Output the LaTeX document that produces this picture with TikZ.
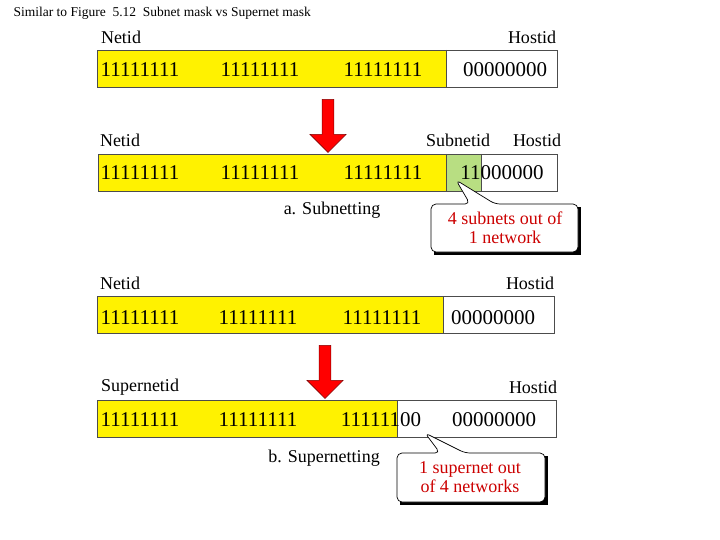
\documentclass[tikz,border=0pt]{standalone}
\usepackage{fontspec}
\setmainfont{Liberation Serif}
\usetikzlibrary{shapes.arrows}
\definecolor{subg}{RGB}{184,222,130}
\begin{document}
\begin{tikzpicture}[x=1pt,y=-1pt,
  bits/.style={font=\fontsize{21}{21}\selectfont},
  lab/.style={font=\fontsize{18}{18}\selectfont},
  call/.style={font=\fontsize{18}{19}\selectfont,text=red!80!black,align=center},
  bar/.style={draw=black!70,line width=0.8pt},
  ybar/.style={fill=yellow},
  darr/.style={single arrow,shape border rotate=270,fill=red,draw=red!50!black,line width=0.6pt,minimum width=36pt,single arrow head extend=11pt,single arrow tip angle=90,inner sep=5pt,minimum height=53pt}]
\useasboundingbox (0,0) rectangle (720,540);
\node[anchor=west,font=\fontsize{13.5}{13.5}\selectfont] (title) at (10,13) {Similar to Figure\ \ 5.12\ \ Subnet mask vs Supernet mask};
% bar 1
\fill[ybar] (97,50) rectangle (446,87);
\draw[bar] (97,50) rectangle (557,87);
\draw[bar] (446,50) -- (446,87);
\node[lab] (n1) at (121,37) {Netid};
\node[lab] (h1) at (532,37) {Hostid};
\node[bits] (b11) at (140,70) {11111111};
\node[bits] (b12) at (260,70) {11111111};
\node[bits] (b13) at (383,70) {11111111};
\node[bits] (b14) at (505,70) {00000000};
\node[darr] (a1) at (328,123) {};
% bar 2
\fill[ybar] (98,154) rectangle (446,191);
\fill[subg] (446,154) rectangle (481,191);
\draw[bar] (98,154) rectangle (557,191);
\draw[bar] (446,154) -- (446,191) (481,154) -- (481,191);
\node[lab] (n2) at (120,140) {Netid};
\node[lab] (s2) at (458,140) {Subnetid};
\node[lab] (h2) at (537,140) {Hostid};
\node[bits] (b21) at (140,173) {11111111};
\node[bits] (b22) at (260,173) {11111111};
\node[bits] (b23) at (383,173) {11111111};
\node[bits] (b24) at (502,173) {11000000};
\node[lab] (sa) at (332,210) {a. Subnetting};
% callout 1
\fill[black] ([shift={(3,3)}]431,204) rectangle ([shift={(3,3)}]578,252);
\draw[line width=0.7pt,fill=white,rounded corners=5pt] (470,204) -- (456,180) -- (495,204) -- (578,204) -- (578,252) -- (431,252) -- (431,204) -- cycle;
\node[call] (c1) at (505,228) {4 subnets out of\\1 network};
% bar 3
\fill[ybar] (97,296) rectangle (443,333);
\draw[bar] (97,296) rectangle (554,333);
\draw[bar] (443,296) -- (443,333);
\node[lab] (n3) at (120,283) {Netid};
\node[lab] (h3) at (530,283) {Hostid};
\node[bits] (b31) at (140,318) {11111111};
\node[bits] (b32) at (258,318) {11111111};
\node[bits] (b33) at (382,318) {11111111};
\node[bits] (b34) at (493,318) {00000000};
\node[darr] (a2) at (325,369) {};
% bar 4
\fill[ybar] (97,400) rectangle (397,437);
\draw[bar] (97,400) rectangle (556,437);
\draw[bar] (397,400) -- (397,437);
\node[lab] (n4) at (140,387) {Supernetid};
\node[lab] (h4) at (533,387) {Hostid};
\node[bits] (b41) at (140,420) {11111111};
\node[bits] (b42) at (258,420) {11111111};
\node[bits] (b43) at (381,420) {11111100};
\node[bits] (b44) at (494,420) {00000000};
\node[lab] (sb) at (324,458) {b. Supernetting};
% callout 2
\fill[black] ([shift={(3,3)}]397,453) rectangle ([shift={(3,3)}]545,502);
\draw[line width=0.7pt,fill=white,rounded corners=5pt] (440,453) -- (425,433) -- (465,453) -- (545,453) -- (545,502) -- (397,502) -- (397,453) -- cycle;
\node[call] (c2) at (470,477) {1 supernet out\\of 4 networks};
\end{tikzpicture}
\end{document}
